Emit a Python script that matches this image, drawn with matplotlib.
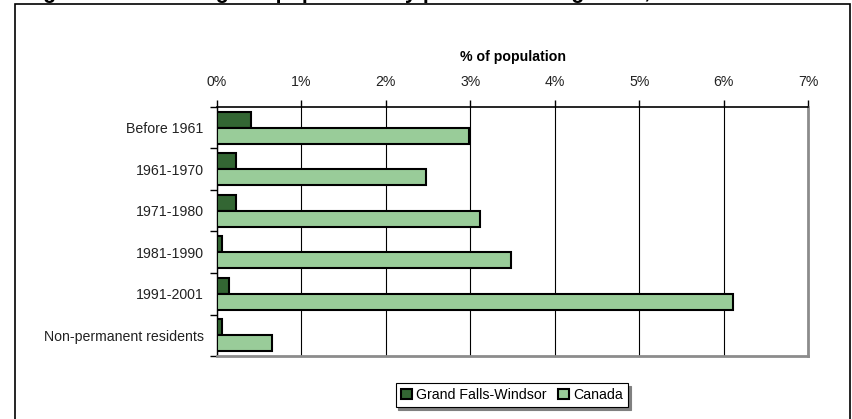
import matplotlib.pyplot as plt
from matplotlib.patches import Rectangle
from matplotlib.ticker import FixedLocator, PercentFormatter

plt.rcParams['font.family'] = ['Liberation Sans Narrow', 'Liberation Sans', 'DejaVu Sans']

periods = ['Before 1961', '1961-1970', '1971-1980', '1981-1990', '1991-2001',
           'Non-permanent residents']
gfw = [0.40, 0.22, 0.22, 0.055, 0.14, 0.055]
canada = [2.98, 2.48, 3.12, 3.48, 6.11, 0.655]

DARK = '#336633'
LIGHT = '#99cc99'
BAR_H = 0.39
FS = 10.2

fig = plt.figure(figsize=(8.52, 4.19), dpi=100)
ax = fig.add_axes([217/852, 1-356/419, 591/852, 249/419])

pos = list(range(len(periods)))
ax.barh([p - BAR_H/2 for p in pos], gfw, height=BAR_H, color=DARK,
        edgecolor='black', linewidth=1.5, label='Grand Falls-Windsor', zorder=3)
ax.barh([p + BAR_H/2 for p in pos], canada, height=BAR_H, color=LIGHT,
        edgecolor='black', linewidth=1.5, label='Canada', zorder=3)

ax.set_xlim(0, 7)
ax.set_ylim(len(periods) - 0.5, -0.5)
ax.xaxis.set_major_locator(FixedLocator(range(8)))
ax.xaxis.set_major_formatter(PercentFormatter(decimals=0))
ax.xaxis.tick_top()
ax.xaxis.set_label_position('top')
ax.tick_params(axis='x', length=5, width=1, pad=8, labelsize=FS, direction='out',
               labelcolor='#222222')
ax.set_xlabel('% of population', fontsize=FS, fontweight='bold', labelpad=10)
ax.grid(axis='x', color='black', linewidth=0.8, zorder=1)

# ticks between the groups, labels at the group centres
ax.yaxis.set_major_locator(FixedLocator([p - 0.5 for p in pos] + [len(pos) - 0.5]))
ax.yaxis.set_major_formatter(plt.NullFormatter())
ax.yaxis.set_minor_locator(FixedLocator(pos))
ax.set_yticklabels(periods, minor=True)
ax.tick_params(axis='y', which='major', length=5, width=1)
ax.tick_params(axis='y', which='minor', length=0, pad=9.5, labelsize=FS,
               labelcolor='#222222')

ax.spines['top'].set_linewidth(1.2)
ax.spines['left'].set_linewidth(1)
for s in ['right', 'bottom']:
    ax.spines[s].set_color('#8c8c8c')
    ax.spines[s].set_linewidth(2)

leg = fig.legend(loc='center', bbox_to_anchor=(512/852, 1-395/419), ncol=2,
                 frameon=True, fancybox=False, shadow={'color': '#808080', 'alpha': 1},
                 edgecolor='black', fontsize=FS, handlelength=0.8, handleheight=0.8,
                 handletextpad=0.3, columnspacing=0.8, borderpad=0.35)
leg.get_frame().set_linewidth(0.8)

# outer frame, runs off the bottom of the picture
fig.patches.append(Rectangle((15/852, -0.05), 835/852, 1.05 - 4.5/419,
                             transform=fig.transFigure, fill=False,
                             edgecolor='black', linewidth=1.2, clip_on=False))

# title sits above the picture, only the descenders show (as in the source)
fig.text(24/852, 1 + 2/419, 'Figure 4: The immigrant population by period of immigration, 2001',
         fontsize=15.5, fontweight='bold', family=['Liberation Sans', 'DejaVu Sans'],
         va='baseline', ha='left')

fig.savefig('out.png', dpi=100)
